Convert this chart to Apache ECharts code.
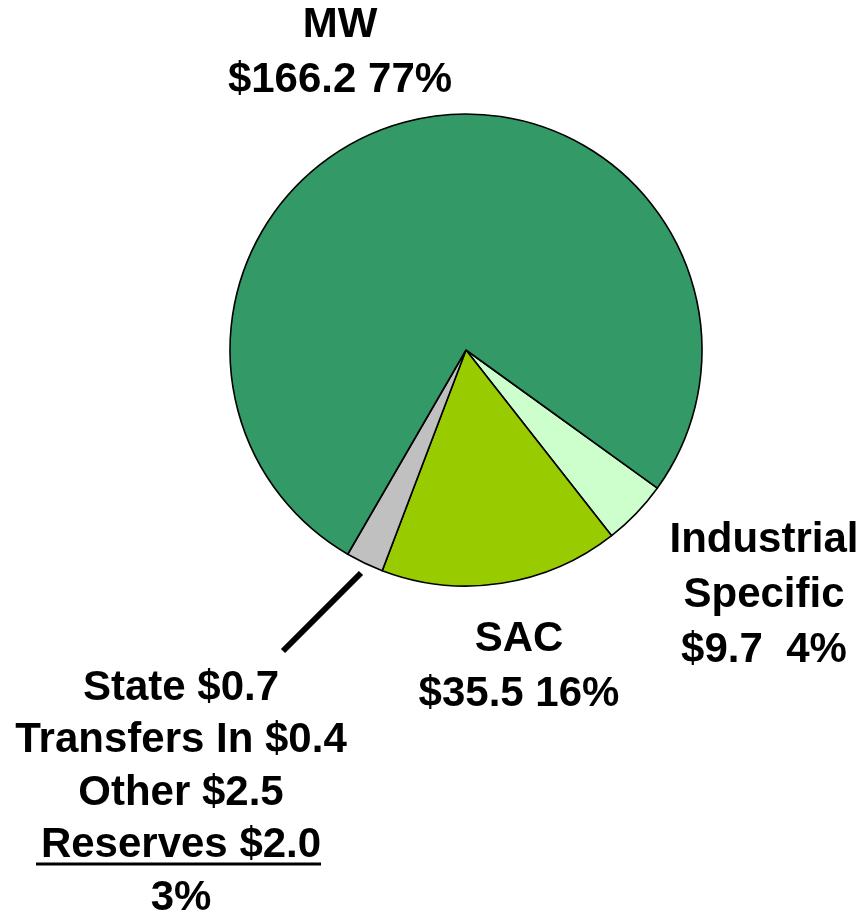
<!DOCTYPE html>
<html>
<head>
<meta charset="utf-8">
<script src="https://cdn.jsdelivr.net/npm/echarts@6/dist/echarts.min.js"></script>
<style>
  html, body { margin: 0; padding: 0; background: #ffffff; }
  #chart { width: 863px; height: 911px; }
</style>
</head>
<body>
<div id="chart"></div>
<script>
// slice names, $ millions and shown percentages (clockwise from Industrial Specific)
const sliceNames = ['Industrial\nSpecific', 'SAC', 'Other', 'MW'];
const sliceValues = [9.7, 35.5, null, 166.2];
const slicePercents = ['4%', '16%', '3%', '77%'];
const sliceColors = ['#ccffcc', '#99cc00', '#c0c0c0', '#339966'];

// the grey slice is made of these small items
const otherNames = ['State', 'Transfers In', 'Other', 'Reserves'];
const otherValues = [0.7, 0.4, 2.5, 2.0];

const otherTotal = otherValues.reduce((a, b) => a + b, 0);
sliceValues[2] = Number(otherTotal.toFixed(1));

// label centres (layout only)
const labelSpots = [
  { x: 764, y: 595, lh: 55 },
  { x: 519, y: 667, lh: 55 },
  { x: 181, y: 793, lh: 52.5 },
  { x: 340, y: 53, lh: 55 },
];

function labelText(i) {
  if (i === 2) {
    const rows = otherNames.map((n, k) => n + ' $' + otherValues[k].toFixed(1));
    return rows.join('\n') + '\n' + slicePercents[i];
  }
  const gap = i === 0 ? '  ' : ' ';
  return sliceNames[i] + '\n$' + sliceValues[i].toFixed(1) + gap + slicePercents[i];
}

const chart = echarts.init(document.getElementById('chart'), null, { renderer: 'canvas' });

chart.setOption({
  animation: false,
  backgroundColor: '#ffffff',
  series: [
    {
      type: 'pie',
      center: [466, 350],
      radius: 236,
      startAngle: -35.8,
      clockwise: true,
      avoidLabelOverlap: false,
      emphasis: { disabled: true },
      itemStyle: {
        borderColor: '#000000',
        borderWidth: 1.6,
      },
      label: {
        show: true,
        position: 'outside',
        color: '#000000',
        fontFamily: '"Liberation Sans", Arial, sans-serif',
        fontWeight: 'bold',
        fontSize: 42,
        align: 'center',
        formatter: (p) => labelText(p.dataIndex),
      },
      labelLine: { show: false },
      labelLayout: (p) => ({
        x: labelSpots[p.dataIndex].x,
        y: labelSpots[p.dataIndex].y,
        align: 'center',
        verticalAlign: 'middle',
      }),
      data: sliceNames.map((n, i) => ({
        name: n,
        value: sliceValues[i],
        itemStyle: { color: sliceColors[i] },
        label: { lineHeight: labelSpots[i].lh },
      })),
    },
  ],
  graphic: [
    {
      type: 'line',
      shape: { x1: 361, y1: 573, x2: 283, y2: 651 },
      style: { stroke: '#000000', lineWidth: 6 },
    },
    {
      type: 'line',
      shape: { x1: 36, y1: 864, x2: 321, y2: 864 },
      style: { stroke: '#000000', lineWidth: 3 },
    },
  ],
});
</script>
</body>
</html>
